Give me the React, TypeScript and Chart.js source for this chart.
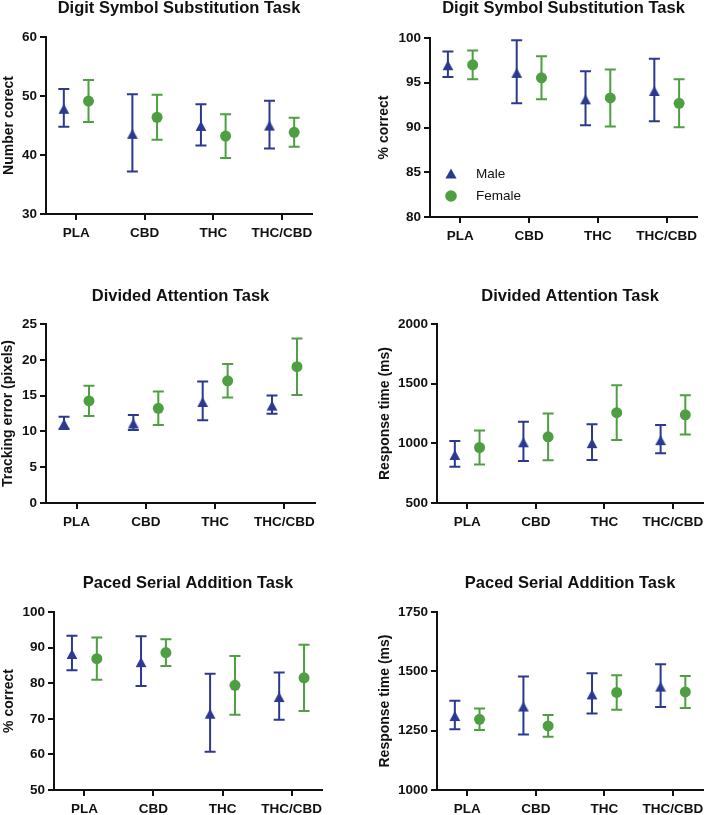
import React, { useEffect, useRef } from "react";
import { Chart, registerables } from "chart.js";

Chart.register(...registerables);

const FONT = '"Liberation Sans", Arial, Helvetica, sans-serif';
const BLUE = "#2B3990";
const GREEN = "#4E9F42";

const categories = ["PLA", "CBD", "THC", "THC/CBD"];

// Panel A: Digit Symbol Substitution Task (number correct)
const dsstNumMaleMean = [48.0, 43.75, 45.1, 45.15];
const dsstNumMaleErr = [3.2, 6.55, 3.5, 4.05];
const dsstNumFemaleMean = [49.15, 46.4, 43.2, 43.85];
const dsstNumFemaleErr = [3.55, 3.8, 3.7, 2.45];
const dsstNumTicks = [30, 60, 10];

// Panel B: Digit Symbol Substitution Task (% correct)
const dsstPctMaleMean = [97.07, 96.22, 93.26, 94.19];
const dsstPctMaleErr = [1.43, 3.52, 3.02, 3.5];
const dsstPctFemaleMean = [97.0, 95.55, 93.3, 92.7];
const dsstPctFemaleErr = [1.6, 2.4, 3.18, 2.68];
const dsstPctTicks = [80, 100, 5];

// Panel C: Divided Attention Task (tracking error)
const datTrackMaleMean = [11.2, 11.25, 14.25, 13.74];
const datTrackMaleErr = [0.85, 1.05, 2.71, 1.26];
const datTrackFemaleMean = [14.26, 13.23, 17.06, 19.04];
const datTrackFemaleErr = [2.1, 2.33, 2.34, 3.95];
const datTrackTicks = [0, 25, 5];

// Panel D: Divided Attention Task (response time)
const datRtMaleMean = [911, 1017, 1010, 1035];
const datRtMaleErr = [108, 164, 149, 118];
const datRtFemaleMean = [965, 1055, 1257, 1239];
const datRtFemaleErr = [143, 196, 230, 164];
const datRtTicks = [500, 2000, 500];

// Panel E: Paced Serial Addition Task (% correct)
const psatPctMaleMean = [88.5, 86.2, 71.7, 76.4];
const psatPctMaleErr = [4.86, 6.97, 10.98, 6.64];
const psatPctFemaleMean = [86.9, 88.6, 79.4, 81.5];
const psatPctFemaleErr = [5.94, 3.74, 8.27, 9.3];
const psatPctTicks = [50, 100, 10];

// Panel F: Paced Serial Addition Task (response time)
const psatRtMaleMean = [1316, 1356, 1407, 1440];
const psatRtMaleErr = [60, 122, 85, 90];
const psatRtFemaleMean = [1298, 1270, 1411, 1413];
const psatRtFemaleErr = [45, 46, 73, 67];
const psatRtTicks = [1000, 1750, 250];

const legendLabels = ["Male", "Female"];

type Panel = {
  title: string;
  yTitle: string;
  ticks: number[];
  maleMean: number[];
  maleErr: number[];
  femaleMean: number[];
  femaleErr: number[];
  legend?: boolean;
  // layout (px)
  cl: number; ct: number; cw: number; ch: number;
  L: number; R: number; T: number; B: number; ty: number; yTitleX: number;
};

const panels: Panel[] = [
  { title: "Digit Symbol Substitution Task", yTitle: "Number corect", ticks: dsstNumTicks,
    maleMean: dsstNumMaleMean, maleErr: dsstNumMaleErr, femaleMean: dsstNumFemaleMean, femaleErr: dsstNumFemaleErr,
    cl: 0, ct: 0, cw: 354, ch: 265, L: 46, R: 312, T: 37, B: 214, ty: 8.5, yTitleX: 9 },
  { title: "Digit Symbol Substitution Task", yTitle: "% correct", ticks: dsstPctTicks,
    maleMean: dsstPctMaleMean, maleErr: dsstPctMaleErr, femaleMean: dsstPctFemaleMean, femaleErr: dsstPctFemaleErr,
    legend: true,
    cl: 354, ct: 0, cw: 355, ch: 265, L: 430, R: 697, T: 38, B: 217, ty: 8.5, yTitleX: 384 },
  { title: "Divided Attention Task", yTitle: "Tracking error (pixels)", ticks: datTrackTicks,
    maleMean: datTrackMaleMean, maleErr: datTrackMaleErr, femaleMean: datTrackFemaleMean, femaleErr: datTrackFemaleErr,
    cl: 0, ct: 270, cw: 354, ch: 270, L: 46, R: 315, T: 324, B: 503, ty: 296, yTitleX: 8.5 },
  { title: "Divided Attention Task", yTitle: "Response time (ms)", ticks: datRtTicks,
    maleMean: datRtMaleMean, maleErr: datRtMaleErr, femaleMean: datRtFemaleMean, femaleErr: datRtFemaleErr,
    cl: 354, ct: 270, cw: 355, ch: 270, L: 437, R: 706, T: 324, B: 503, ty: 296, yTitleX: 385 },
  { title: "Paced Serial Addition Task", yTitle: "% correct", ticks: psatPctTicks,
    maleMean: psatPctMaleMean, maleErr: psatPctMaleErr, femaleMean: psatPctFemaleMean, femaleErr: psatPctFemaleErr,
    cl: 0, ct: 545, cw: 354, ch: 270, L: 54, R: 322, T: 612, B: 790, ty: 583, yTitleX: 9 },
  { title: "Paced Serial Addition Task", yTitle: "Response time (ms)", ticks: psatRtTicks,
    maleMean: psatRtMaleMean, maleErr: psatRtMaleErr, femaleMean: psatRtFemaleMean, femaleErr: psatRtFemaleErr,
    cl: 354, ct: 545, cw: 355, ch: 270, L: 437, R: 706, T: 612, B: 790, ty: 583, yTitleX: 385 },
];

const X_MIN = -0.44;
const X_MAX = 3.44;
const OFFSET = 0.18;
const TITLE_SIZE = 16.5;

let triangleImg: HTMLCanvasElement | null = null;
function getTriangle(): HTMLCanvasElement {
  if (triangleImg) return triangleImg;
  const c = document.createElement("canvas");
  c.width = 16;
  c.height = 16;
  const g = c.getContext("2d")!;
  g.fillStyle = BLUE;
  g.beginPath();
  g.moveTo(8, 4);
  g.lineTo(13.4, 14);
  g.lineTo(2.6, 14);
  g.closePath();
  g.fill();
  triangleImg = c;
  return c;
}

const errorBarPlugin = {
  id: "errorBars",
  beforeDatasetsDraw(chart: any) {
    const ctx = chart.ctx;
    const yScale = chart.scales.y;
    chart.data.datasets.forEach((ds: any, di: number) => {
      const meta = chart.getDatasetMeta(di);
      ctx.save();
      ctx.strokeStyle = ds.borderColor;
      ctx.lineWidth = 2;
      meta.data.forEach((pt: any, i: number) => {
        const m = ds.data[i].y;
        const e = ds.errors[i];
        const x = pt.x;
        const yTop = yScale.getPixelForValue(m + e);
        const yBot = yScale.getPixelForValue(m - e);
        const cap = 5.5;
        ctx.beginPath();
        ctx.moveTo(x, yTop);
        ctx.lineTo(x, yBot);
        ctx.moveTo(x - cap, yTop);
        ctx.lineTo(x + cap, yTop);
        ctx.moveTo(x - cap, yBot);
        ctx.lineTo(x + cap, yBot);
        ctx.stroke();
      });
      ctx.restore();
    });
  },
};

const legendPlugin = {
  id: "insideLegend",
  afterDatasetsDraw(chart: any, _args: any, opts: any) {
    if (!opts || !opts.show) return;
    const ctx = chart.ctx;
    const a = chart.chartArea;
    const mx = a.left + 21;
    const y1 = a.top + 136;
    const y2 = a.top + 158;
    ctx.save();
    ctx.fillStyle = BLUE;
    ctx.beginPath();
    ctx.moveTo(mx, y1 - 5.5);
    ctx.lineTo(mx + 5.6, y1 + 4.5);
    ctx.lineTo(mx - 5.6, y1 + 4.5);
    ctx.closePath();
    ctx.fill();
    ctx.fillStyle = GREEN;
    ctx.beginPath();
    ctx.arc(mx, y2, 5.8, 0, Math.PI * 2);
    ctx.fill();
    ctx.fillStyle = "#111";
    ctx.font = `13.5px ${FONT}`;
    ctx.textBaseline = "middle";
    ctx.textAlign = "left";
    ctx.fillText(legendLabels[0], a.left + 46, y1);
    ctx.fillText(legendLabels[1], a.left + 46, y2);
    ctx.restore();
  },
};

function makeConfig(p: Panel): any {
  const half = TITLE_SIZE / 2;
  const axisCommon = {
    grid: { drawOnChartArea: false, drawTicks: true, tickLength: 6, tickWidth: 2, tickColor: "#111", color: "#111", lineWidth: 2 },
    border: { display: true, color: "#111", width: 2 },
  };
  return {
    type: "scatter",
    data: {
      datasets: [
        {
          label: legendLabels[0],
          data: p.maleMean.map((v, i) => ({ x: i - OFFSET, y: v })),
          errors: p.maleErr,
          pointStyle: getTriangle(),
          pointRadius: 6,
          backgroundColor: BLUE,
          borderColor: BLUE,
          borderWidth: 0,
        },
        {
          label: legendLabels[1],
          data: p.femaleMean.map((v, i) => ({ x: i + OFFSET, y: v })),
          errors: p.femaleErr,
          pointStyle: "circle",
          pointRadius: 5.5,
          backgroundColor: GREEN,
          borderColor: GREEN,
          borderWidth: 0,
        },
      ],
    },
    options: {
      animation: false,
      responsive: false,
      devicePixelRatio: 1,
      layout: {
        autoPadding: false,
        padding: { left: 0, right: p.cl + p.cw - p.R, top: 0, bottom: 0 },
      },
      plugins: {
        legend: { display: false },
        tooltip: { enabled: false },
        insideLegend: { show: !!p.legend },
        title: {
          display: true,
          text: p.title,
          fullSize: false,
          color: "#111",
          font: { family: FONT, size: TITLE_SIZE, weight: "bold", lineHeight: 1 },
          padding: { top: p.ty - p.ct - half, bottom: p.T - p.ty - half },
        },
      },
      scales: {
        x: {
          type: "linear",
          min: X_MIN,
          max: X_MAX,
          afterBuildTicks: (s: any) => {
            s.ticks = categories.map((_, i) => ({ value: i }));
          },
          afterFit: (s: any) => {
            s.height = p.ct + p.ch - p.B;
          },
          ticks: {
            autoSkip: false,
            maxRotation: 0,
            padding: 5,
            color: "#111",
            font: { family: FONT, size: 13.5, weight: "bold" },
            callback: (v: any) => categories[Math.round(v)] ?? "",
          },
          ...axisCommon,
        },
        y: {
          min: p.ticks[0],
          max: p.ticks[1],
          afterFit: (s: any) => {
            s.width = p.L - p.cl;
          },
          ticks: {
            stepSize: p.ticks[2],
            padding: 3,
            color: "#111",
            font: { family: FONT, size: 13.5, weight: "bold" },
            callback: (v: any) => String(v),
          },
          title: {
            display: true,
            text: p.yTitle,
            color: "#111",
            font: { family: FONT, size: 14, weight: "bold", lineHeight: 1.2 },
            padding: { top: Math.max(0, p.yTitleX - p.cl - 8.4), bottom: 0 },
          },
          ...axisCommon,
        },
      },
    },
    plugins: [errorBarPlugin, legendPlugin],
  };
}

function PanelChart({ p }: { p: Panel }) {
  const ref = useRef<HTMLCanvasElement | null>(null);
  useEffect(() => {
    if (!ref.current) return;
    const chart = new Chart(ref.current, makeConfig(p));
    return () => chart.destroy();
  }, [p]);
  return (
    <canvas
      ref={ref}
      width={p.cw}
      height={p.ch}
      style={{ position: "absolute", left: p.cl, top: p.ct, width: p.cw, height: p.ch }}
    />
  );
}

export default function App() {
  return (
    <div style={{ position: "absolute", left: 0, top: 0, width: 709, height: 815, background: "#fff", overflow: "hidden" }}>
      {panels.map((p, i) => (
        <PanelChart key={i} p={p} />
      ))}
    </div>
  );
}
